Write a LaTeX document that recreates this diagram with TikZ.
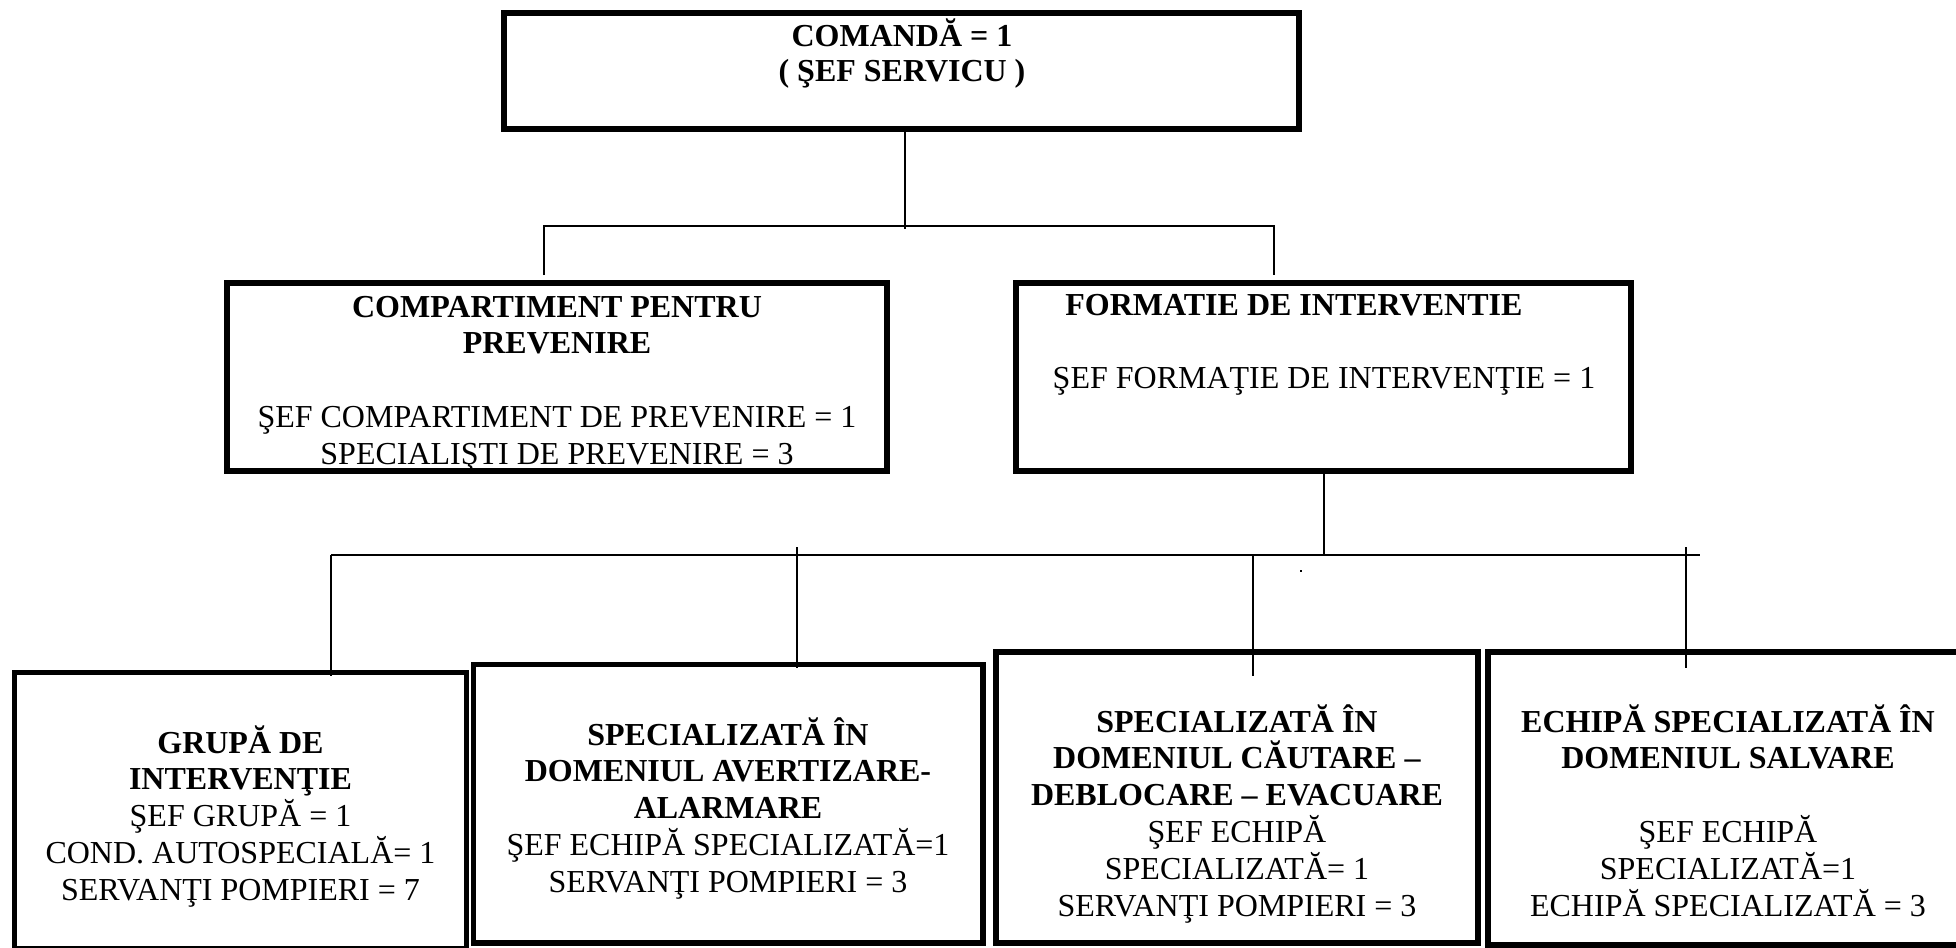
\documentclass[tikz,border=0pt]{standalone}
\usepackage{fontspec}
\setmainfont{Liberation Serif}
\tikzset{
  box/.style={draw, rectangle, line width=2.8pt, inner sep=0pt, outer sep=0pt},
  txt/.style={inner sep=0pt, anchor=north, align=center, font=\fontsize{16}{18.4}\selectfont},
  conn/.style={line width=1pt}
}
\newcommand{\fs}{\rule{0pt}{15pt}}
\begin{document}
\begin{tikzpicture}[x=0.5pt, y=-0.5pt]
\useasboundingbox (0,0) rectangle (1956,948);
% boxes
\node[box, minimum width=397.5pt, minimum height=58pt] (top) at (901.5,71) {};
\node[box, minimum width=330pt, minimum height=94pt] (ml) at (557,377) {};
\node[box, minimum width=307.5pt, minimum height=94pt] (mr) at (1323.5,377) {};
\node[box, minimum width=226pt, minimum height=138.25pt] (g1) at (240.5,810.75) {};
\node[box, minimum width=254.75pt, minimum height=139.25pt] (g2) at (728.25,803.75) {};
\node[box, minimum width=241pt, minimum height=145.5pt] (g3) at (1237,797.5) {};
\node[box, minimum width=240.5pt, minimum height=146.5pt] (g4) at (1728.5,798.5) {};
% texts
\node[txt, font=\fontsize{16}{17.6}\selectfont] (ttop) at (902,15.6) {\fs\textbf{COMANDĂ = 1}\\\textbf{( ŞEF SERVICU )}};
\node[txt] (tml) at (557,286.6) {\fs\textbf{COMPARTIMENT PENTRU}\\\textbf{PREVENIRE}\\[18.4pt]ŞEF COMPARTIMENT DE PREVENIRE = 1\\SPECIALIŞTI DE PREVENIRE = 3};
\node[txt, anchor=north west] (tmr) at (1065,284.6) {\fs\textbf{FORMATIE DE INTERVENTIE}};
\node[txt] (tmr2) at (1324,357.6) {\fs ŞEF FORMAŢIE DE INTERVENŢIE = 1};
\node[txt] (tg1) at (240.5,722.6) {\fs\textbf{GRUPĂ DE}\\\textbf{INTERVENŢIE}\\ŞEF GRUPĂ = 1\\COND. AUTOSPECIALĂ= 1\\SERVANŢI POMPIERI = 7};
\node[txt] (tg2) at (728,714.6) {\fs\textbf{SPECIALIZATĂ ÎN}\\\textbf{DOMENIUL AVERTIZARE-}\\\textbf{ALARMARE}\\ŞEF ECHIPĂ SPECIALIZATĂ=1\\SERVANŢI POMPIERI = 3};
\node[txt] (tg3) at (1237,701.6) {\fs\textbf{SPECIALIZATĂ ÎN}\\\textbf{DOMENIUL CĂUTARE –}\\\textbf{DEBLOCARE – EVACUARE}\\ŞEF ECHIPĂ\\SPECIALIZATĂ= 1\\SERVANŢI POMPIERI = 3};
\node[txt] (tg4) at (1728,701.6) {\fs\textbf{ECHIPĂ SPECIALIZATĂ ÎN}\\\textbf{DOMENIUL SALVARE}\\[18.4pt]ŞEF ECHIPĂ\\SPECIALIZATĂ=1\\ECHIPĂ SPECIALIZATĂ = 3};
% upper connectors
\coordinate (j1) at (905,229);
\coordinate (aR) at (1274,226);
\coordinate (aLe) at (544,275);
\coordinate (aRe) at (1274,275);
\draw[conn] (top.south -| j1) -- (j1);
\draw[conn] (aLe) |- (aR) -- (aRe);
% lower connectors
\coordinate (bL) at (331,555);
\coordinate (bR) at (1700,555);
\coordinate (d1e) at (331,676);
\coordinate (d2) at (797,547);
\coordinate (d2e) at (797,668);
\coordinate (d3) at (1253,555);
\coordinate (d3e) at (1253,676);
\coordinate (d4) at (1686,547);
\coordinate (d4e) at (1686,668);
\draw[conn] (mr.south) -- (mr.south |- bL);
\draw[conn] (bL) -- (bR);
\draw[conn] (bL) -- (d1e);
\draw[conn] (d2) -- (d2e);
\draw[conn] (d3) -- (d3e);
\draw[conn] (d4) -- (d4e);
% stray dot
\fill (1300,570) rectangle (1302,572);
\end{tikzpicture}
\end{document}
